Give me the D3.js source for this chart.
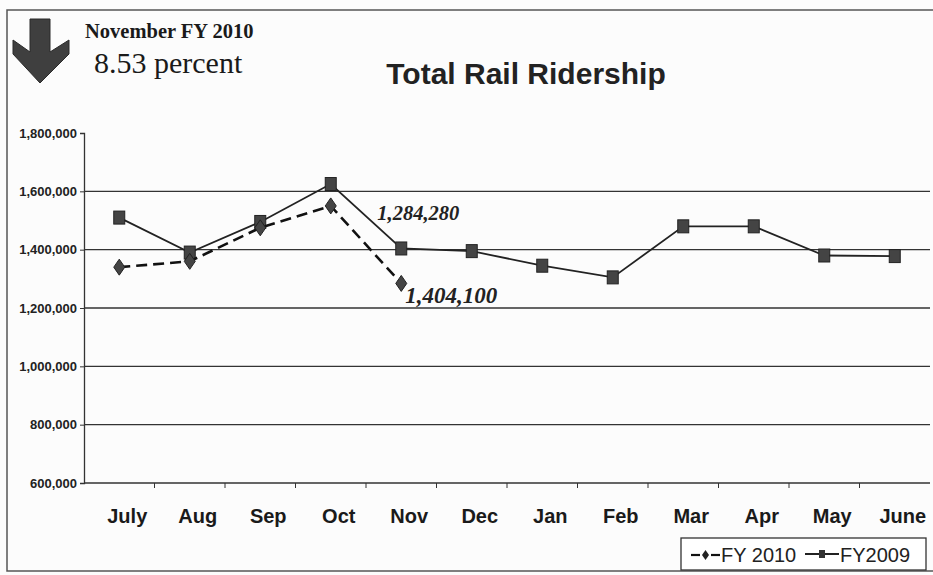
<!DOCTYPE html>
<html>
<head>
<meta charset="utf-8">
<script src="https://cdn.jsdelivr.net/npm/d3@7"></script>
<style>
  body { margin: 0; background: #fcfcfc; }
  svg { display: block; }
</style>
</head>
<body>
<div id="chart"></div>
<script>
var months = ["July", "Aug", "Sep", "Oct", "Nov", "Dec", "Jan", "Feb", "Mar", "Apr", "May", "June"];
var fy2009 = [1510000, 1390000, 1495000, 1625000, 1404100, 1395000, 1345000, 1305000, 1480000, 1480000, 1380000, 1378000];
var fy2010 = [1340000, 1360000, 1475000, 1550000, 1284280];
var yTicks = [600000, 800000, 1000000, 1200000, 1400000, 1600000, 1800000];
var callouts = [
    {text: "1,284,280", month: "Nov", value: 1404100, dx: -24, dy: -28, size: 20.5},
    {text: "1,404,100", month: "Nov", value: 1284280, dx: 4, dy: 20, size: 23}
];

var W = 933, H = 575;
var margin = {top: 133, right: 3, bottom: 92, left: 84};
var width = W - margin.left - margin.right,
    height = H - margin.top - margin.bottom;

var svg = d3.select("#chart")
    .append("svg")
    .attr("width", W)
    .attr("height", H);

// frame of the scanned page
svg.append("path")
    .attr("d", "M933,10 L7,10 L7,571 L933,571")
    .attr("fill", "none")
    .attr("stroke", "#555")
    .attr("stroke-width", 1.5);

var g = svg.append("g")
    .attr("transform", "translate(" + margin.left + "," + margin.top + ")");

var x = d3.scaleBand()
    .domain(months)
    .range([0, 846]);

var y = d3.scaleLinear()
    .domain([600000, 1800000])
    .range([height, 0]);

// gridlines
g.selectAll(".grid")
    .data(yTicks.filter(function (d) { return d > 600000 && d < 1800000; }))
    .enter()
    .append("line")
    .attr("x1", 0)
    .attr("x2", width)
    .attr("y1", function (d) { return y(d); })
    .attr("y2", function (d) { return y(d); })
    .attr("stroke", "#333")
    .attr("stroke-width", 1.3);

// Y axis
var yAxis = g.append("g")
    .call(d3.axisLeft(y).tickValues(yTicks).tickSize(4).tickFormat(d3.format(",")));
yAxis.select(".domain").attr("stroke", "#333").attr("stroke-width", 1.3);
yAxis.selectAll("line").attr("stroke", "#333");
yAxis.selectAll("text")
    .attr("font-family", "Liberation Sans, Arial, sans-serif")
    .attr("font-weight", "bold")
    .attr("font-size", 13)
    .attr("fill", "#222");

// X axis: ticks at band boundaries
var xAxis = g.append("g")
    .attr("transform", "translate(0," + height + ")");
xAxis.append("line")
    .attr("x1", 0).attr("x2", width)
    .attr("stroke", "#333").attr("stroke-width", 1.3);
xAxis.selectAll(".xt")
    .data(months.slice(1))
    .enter()
    .append("line")
    .attr("x1", function (d) { return x(d); })
    .attr("x2", function (d) { return x(d); })
    .attr("y1", 0).attr("y2", 5)
    .attr("stroke", "#333");
xAxis.selectAll(".xl")
    .data(months)
    .enter()
    .append("text")
    .attr("x", function (d) { return x(d) + x.bandwidth() / 2 + 8; })
    .attr("y", 40)
    .attr("text-anchor", "middle")
    .attr("font-family", "Liberation Sans, Arial, sans-serif")
    .attr("font-weight", "bold")
    .attr("font-size", 20)
    .attr("fill", "#1a1a1a")
    .text(function (d) { return d; });

var cx = function (d, i) { return x(months[i]) + x.bandwidth() / 2; };

var line = d3.line()
    .x(function (d, i) { return cx(d, i); })
    .y(function (d) { return y(d); });

// FY2009 solid
g.append("path")
    .datum(fy2009)
    .attr("d", line)
    .attr("fill", "none")
    .attr("stroke", "#222")
    .attr("stroke-width", 1.8);

g.selectAll(".sq")
    .data(fy2009)
    .enter()
    .append("rect")
    .attr("x", function (d, i) { return cx(d, i) - 5.5; })
    .attr("y", function (d) { return y(d) - 6.5; })
    .attr("width", 11)
    .attr("height", 13)
    .attr("fill", "#444")
    .attr("stroke", "#222")
    .attr("stroke-width", 1);

// FY 2010 dashed
g.append("path")
    .datum(fy2010)
    .attr("d", line)
    .attr("fill", "none")
    .attr("stroke", "#111")
    .attr("stroke-width", 2.6)
    .attr("stroke-dasharray", "11,6");

g.selectAll(".dm")
    .data(fy2010)
    .enter()
    .append("path")
    .attr("d", function (d, i) {
        var px = cx(d, i), py = y(d);
        return "M" + px + "," + (py - 8) + " L" + (px + 5.5) + "," + py +
            " L" + px + "," + (py + 8) + " L" + (px - 5.5) + "," + py + "Z";
    })
    .attr("fill", "#444")
    .attr("stroke", "#222");

// value callouts
g.selectAll(".co")
    .data(callouts)
    .enter()
    .append("text")
    .attr("x", function (d) { return x(d.month) + x.bandwidth() / 2 + d.dx; })
    .attr("y", function (d) { return y(d.value) + d.dy; })
    .attr("font-family", "Liberation Serif, Times New Roman, serif")
    .attr("font-weight", "bold")
    .attr("font-style", "italic")
    .attr("font-size", function (d) { return d.size; })
    .attr("fill", "#222")
    .text(function (d) { return d.text; });

// title
svg.append("text")
    .attr("x", 526)
    .attr("y", 84)
    .attr("text-anchor", "middle")
    .attr("font-family", "Liberation Sans, Arial, sans-serif")
    .attr("font-weight", "bold")
    .attr("font-size", 30)
    .attr("fill", "#222")
    .text("Total Rail Ridership");

// header arrow and note
svg.append("path")
    .attr("d", "M30,19 L50,19 L50,52 L69,40 L69,54 L40,83 L13,54 L13,40 L30,52 Z")
    .attr("fill", "#3f3f3f")
    .attr("stroke", "#2a2a2a");

svg.append("text")
    .attr("x", 85)
    .attr("y", 38)
    .attr("font-family", "Liberation Serif, Times New Roman, serif")
    .attr("font-weight", "bold")
    .attr("font-size", 20.5)
    .attr("fill", "#1a1a1a")
    .text("November FY 2010");

svg.append("text")
    .attr("x", 94)
    .attr("y", 73)
    .attr("font-family", "Liberation Serif, Times New Roman, serif")
    .attr("font-size", 30)
    .attr("fill", "#1a1a1a")
    .text("8.53 percent");

// legend
var legend = svg.append("g").attr("transform", "translate(681,538)");
legend.append("rect")
    .attr("width", 245).attr("height", 32)
    .attr("fill", "#fff").attr("stroke", "#333").attr("stroke-width", 1.3);

// FY 2010 key: short dash, diamond, short dash
legend.append("line")
    .attr("x1", 10).attr("x2", 19).attr("y1", 17).attr("y2", 17)
    .attr("stroke", "#111").attr("stroke-width", 2.2);
legend.append("line")
    .attr("x1", 30).attr("x2", 39).attr("y1", 17).attr("y2", 17)
    .attr("stroke", "#111").attr("stroke-width", 2.2);
legend.append("path")
    .attr("d", "M24.5,12 L28,17 L24.5,22 L21,17 Z").attr("fill", "#222");
legend.append("text")
    .attr("x", 40).attr("y", 24)
    .attr("font-family", "Liberation Sans, Arial, sans-serif")
    .attr("font-size", 20).attr("fill", "#222")
    .text("FY 2010");

// FY2009 key: line with small square
legend.append("line")
    .attr("x1", 124).attr("x2", 158).attr("y1", 16).attr("y2", 16)
    .attr("stroke", "#222").attr("stroke-width", 1.8);
legend.append("rect")
    .attr("x", 138).attr("y", 12).attr("width", 6).attr("height", 8).attr("fill", "#333");
legend.append("text")
    .attr("x", 159).attr("y", 24)
    .attr("font-family", "Liberation Sans, Arial, sans-serif")
    .attr("font-size", 20).attr("fill", "#222")
    .text("FY2009");
</script>
</body>
</html>
